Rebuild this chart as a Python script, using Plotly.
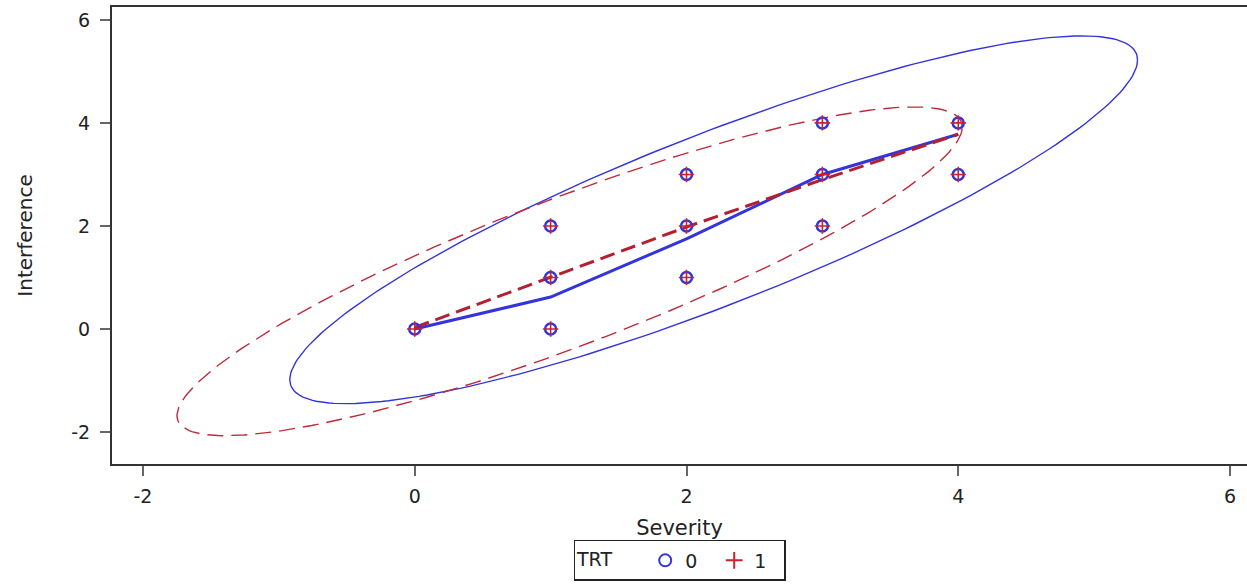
import numpy as np
import plotly.graph_objects as go

# ---------------- data ----------------
severity_pts = [0, 1, 1, 1, 2, 2, 2, 3, 3, 3, 4, 4]
interference_pts = [0, 0, 1, 2, 1, 2, 3, 2, 3, 4, 3, 4]

fit_x = [0, 1, 2, 3, 4]
fit_trt0 = [0.0, 0.62, 1.75, 3.0, 3.78]
fit_trt1 = [0.03, 1.0, 1.98, 2.9, 3.78]

# prediction ellipses: centre and (scaled) covariance
ell0_center = [2.2, 2.12]
ell0_cov = [[9.73, 9.67], [9.67, 12.74]]
ell1_center = [1.14, 1.12]
ell1_cov = [[8.35, 8.09], [8.09, 10.18]]

tick_vals = [-2, 0, 2, 4, 6]
tick_text = ["-2", "0", "2", "4", "6"]

BLUE = "#3434DC"
RED = "#BE2A3A"


def ellipse(center, cov, n=240):
    t = np.linspace(0, 2 * np.pi, n)
    L = np.linalg.cholesky(np.array(cov))
    pts = L @ np.vstack([np.cos(t), np.sin(t)])
    return pts[0] + center[0], pts[1] + center[1]


fig = go.Figure()

ex0, ey0 = ellipse(ell0_center, ell0_cov)
ex1, ey1 = ellipse(ell1_center, ell1_cov)
fig.add_trace(go.Scatter(x=ex0, y=ey0, mode="lines", showlegend=False,
                         line=dict(color=BLUE, width=1.4), hoverinfo="skip"))
fig.add_trace(go.Scatter(x=ex1, y=ey1, mode="lines", showlegend=False,
                         line=dict(color=RED, width=1.4, dash="16px,8px"), hoverinfo="skip"))

fig.add_trace(go.Scatter(x=fit_x, y=fit_trt0, mode="lines", showlegend=False,
                         line=dict(color=BLUE, width=3)))
fig.add_trace(go.Scatter(x=fit_x, y=fit_trt1, mode="lines", showlegend=False,
                         line=dict(color="#B42030", width=3, dash="15px,7px")))

fig.add_trace(go.Scatter(x=severity_pts, y=interference_pts, mode="markers", name="0",
                         marker=dict(symbol="circle-open", size=11, color=BLUE,
                                     line=dict(width=2.5, color=BLUE))))
fig.add_trace(go.Scatter(x=severity_pts, y=interference_pts, mode="markers", name="1",
                         marker=dict(symbol="cross-thin-open", size=11, color="#D0202E",
                                     line=dict(width=1.6, color="#D0202E"))))

FONT = "DejaVu Sans, Liberation Sans, Arial, sans-serif"

fig.update_layout(
    width=1247, height=586,
    margin=dict(l=112, r=0, t=7, b=122, autoexpand=False),
    paper_bgcolor="white", plot_bgcolor="white",
    font=dict(family=FONT, size=19, color="#222"),
    xaxis=dict(range=[-2.228, 6.125], tickvals=tick_vals, ticktext=tick_text,
               showgrid=False, zeroline=False,
               showline=True, linecolor="#333", linewidth=2, mirror=True,
               ticks="outside", ticklen=10, tickwidth=2, tickcolor="#666",
               tickfont=dict(size=19), ticklabelstandoff=4,
               title=dict(text="Severity", font=dict(size=21), standoff=15)),
    yaxis=dict(range=[-2.62, 6.25], tickvals=tick_vals, ticktext=tick_text,
               showgrid=False, zeroline=False,
               showline=True, linecolor="#333", linewidth=2,
               ticks="outside", ticklen=10, tickwidth=2, tickcolor="#666",
               tickfont=dict(size=19), ticklabelstandoff=6,
               title=dict(text="Interference", font=dict(size=20), standoff=33)),
    legend=dict(orientation="h", x=0.5, xanchor="center", y=-0.256, yanchor="bottom",
                title=dict(text="TRT    ", font=dict(size=19)),
                bordercolor="#222", borderwidth=1.5, bgcolor="white",
                font=dict(size=19), itemsizing="constant", entrywidth=24,
                tracegroupgap=0),
)

fig.write_html("out.html")
